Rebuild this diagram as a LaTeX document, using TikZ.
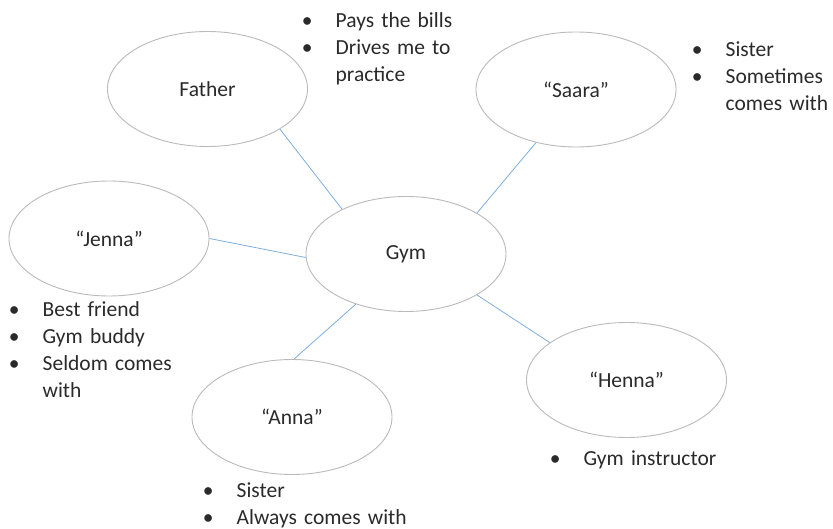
\documentclass[tikz,border=0pt]{standalone}
\usepackage{fontspec}
\setmainfont{Carlito}
\usetikzlibrary{shapes.geometric}
\definecolor{rim}{HTML}{BABABA}
\definecolor{link}{HTML}{7EAEDD}
\definecolor{ink}{HTML}{2A2A2A}
% bullet centred on the anchor, text after a fixed indent
\newcommand{\bul}{\makebox[0pt][c]{\textbullet}\hspace*{28.5pt}}
\newcommand{\cont}{\hspace*{28.5pt}}
\begin{document}
\begin{tikzpicture}[x=1pt,y=-1pt,
  every node/.style={text=ink, font=\fontsize{21.5}{27}\selectfont},
  person/.style={ellipse, draw=rim, line width=0.9pt, fill=white,
    minimum width=200pt, minimum height=115pt, inner sep=0pt},
  notes/.style={anchor=base west, inner sep=0pt, text width=200pt, align=left},
  tie/.style={draw=link, line width=0.8pt}]
\useasboundingbox (0,0) rectangle (833,529);

% people around the gym
\node[person] (gym)    at (406,254)   {Gym};
\node[person] (father) at (207.5,89)  {Father};
\node[person] (saara)  at (576,89.5)  {“Saara”};
\node[person] (jenna)  at (109,238.5) {“Jenna”};
\node[person] (anna)   at (292,417)   {“Anna”};
\node[person] (henna)  at (626.5,380) {“Henna”};

% links to the gym
\draw[tie] (father.-29)  -- (gym.145.5);
\draw[tie] (saara.-127.5) -- (gym.30.5);
\draw[tie] (jenna.0)     -- (gym.182);
\draw[tie] (anna.88)     -- (gym.225.6);
\draw[tie] (henna.154)   -- (gym.-30.4);

% notes beside each person
\node[notes] (fathernotes) at (307,28)
  {\bul Pays the bills\\ \bul Drives me to\\ \cont practice};
\node[notes] (saaranotes) at (697,57)
  {\bul Sister\\ \bul Sometimes\\ \cont comes with};
\node[notes] (jennanotes) at (14,317)
  {\bul Best friend\\ \bul Gym buddy\\ \bul Seldom comes\\ \cont with};
\node[notes] (annanotes) at (208,497)
  {\bul Sister\\ \bul Always comes with};
\node[notes] (hennanotes) at (555,465)
  {\bul Gym instructor};
\end{tikzpicture}
\end{document}
